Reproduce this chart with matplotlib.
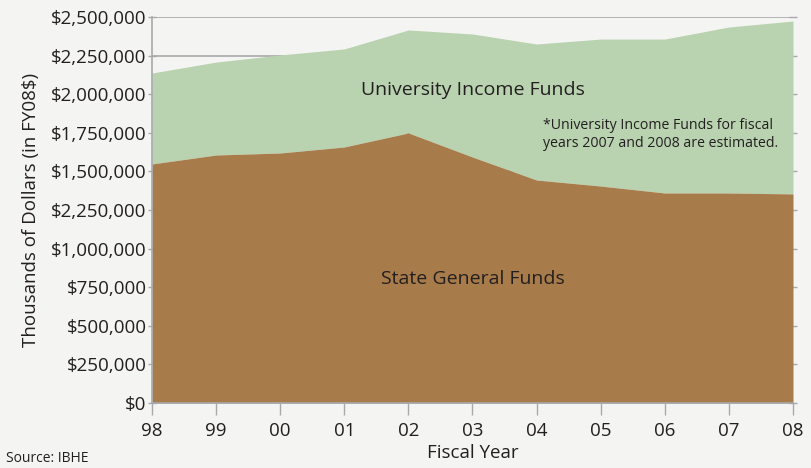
import matplotlib.pyplot as plt
import numpy as np

# values (dollars)
years = ['98', '99', '00', '01', '02', '03', '04', '05', '06', '07', '08']
state_funds = [1548000, 1606000, 1619000, 1658000, 1749000, 1593000,
               1444000, 1405000, 1360000, 1360000, 1354000]
total_funds = [2137000, 2208000, 2254000, 2293000, 2416000, 2390000,
               2325000, 2357000, 2357000, 2435000, 2474000]
ytick_vals = [0, 250000, 500000, 750000, 1000000, 1250000, 1500000,
              1750000, 2000000, 2250000, 2500000]
ytick_labels = ['$0', '$250,000', '$500,000', '$750,000', '$1,000,000',
                '$2,250,000', '$1,500,000', '$1,750,000', '$2,000,000',
                '$2,250,000', '$2,500,000']

plt.rcParams['font.family'] = ['Open Sans', 'DejaVu Sans']
txt = '#231f20'
grey = '#a7a9ac'

fig = plt.figure(figsize=(8.11, 4.68), dpi=100, facecolor='#f4f4f2')
ax = fig.add_axes([0.1874, 0.1389, 0.7904, 0.8248])
ax.set_facecolor('#f4f4f2')

x = np.arange(len(years))
ax.fill_between(x, state_funds, total_funds, color='#b9d3b0', lw=0, zorder=2)
ax.fill_between(x, 0, state_funds, color='#a87b4a', lw=0, zorder=2)

ax.set_xlim(0, len(years) - 1)
ax.set_ylim(0, 2500000)
ax.set_xticks(x)
ax.set_xticklabels(years, fontsize=13.5, color=txt)
ax.set_yticks(ytick_vals)
ax.set_yticklabels(ytick_labels, fontsize=13.5, color=txt)
ax.grid(axis='y', color=grey, lw=1.2, zorder=1)
ax.set_axisbelow(True)

for s in ['top', 'right']:
    ax.spines[s].set_visible(False)
for s in ['left', 'bottom']:
    ax.spines[s].set_color(grey)
    ax.spines[s].set_linewidth(1.2)
    ax.spines[s].set_zorder(3)
ax.tick_params(axis='x', length=8.6, width=1, color=grey, pad=5)
ax.tick_params(axis='y', length=6, width=1, color=grey, pad=1,
               right=True, direction='inout')

ax.set_xlabel('Fiscal Year', fontsize=13.5, color=txt, labelpad=3)
ax.set_ylabel('Thousands of Dollars (in FY08$)', fontsize=13.5, color=txt, labelpad=8)

ax.text(5, 2030000, 'University Income Funds', ha='center', va='center',
        fontsize=14, color=txt, zorder=4)
ax.text(5, 800000, 'State General Funds', ha='center', va='center',
        fontsize=14, color=txt, zorder=4)
ax.text(6.1, 1740000, '*University Income Funds for fiscal\nyears 2007 and 2008 are estimated.',
        ha='left', va='center', fontsize=10.2, color=txt, linespacing=1.3, zorder=4)

fig.text(0.008, 0.004, 'Source: IBHE', ha='left', va='bottom',
         fontsize=10, color=txt)

fig.savefig('out.png', dpi=100, facecolor=fig.get_facecolor())
